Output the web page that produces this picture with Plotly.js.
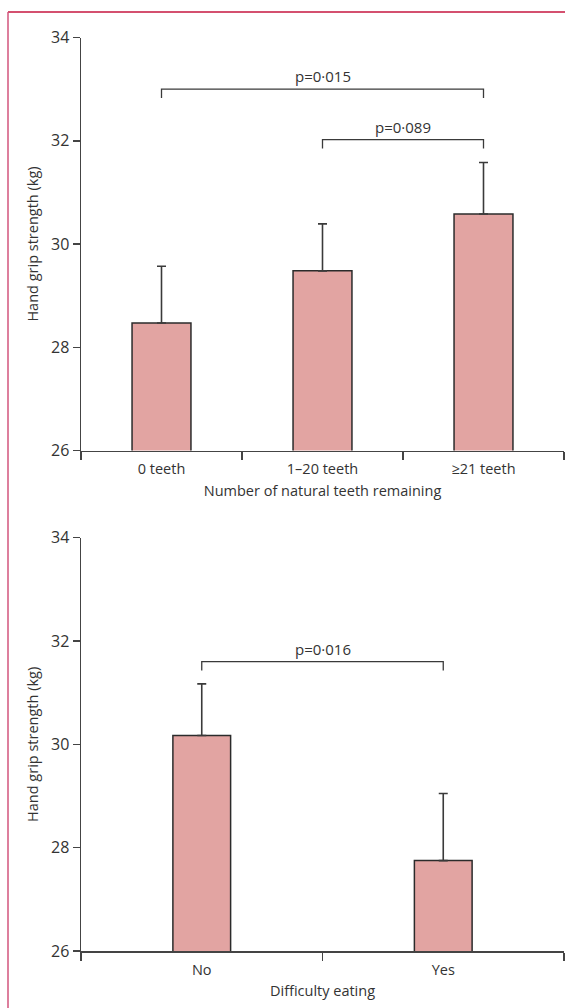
<!DOCTYPE html>
<html>
<head>
<meta charset="utf-8">
<script src="https://cdn.plot.ly/plotly-3.0.1.min.js"></script>
<style>html,body{margin:0;padding:0;background:#fff;}#chart{width:565px;height:1008px;}</style>
</head>
<body>
<div id="chart"></div>
<script>
// ---- data ----
const teethCats = ['0 teeth', '1–20 teeth', '≥21 teeth'];
const teethMean = [28.47, 29.48, 30.58];
const teethUpper = [29.57, 30.39, 31.58];
const teethPFrom = [0, 1];
const teethPTo = [2, 2];
const teethPLevel = [33.0, 32.02];
const teethPLabel = ['p=0·015', 'p=0·089'];

const eatCats = ['No', 'Yes'];
const eatMean = [30.17, 27.75];
const eatUpper = [31.17, 29.05];
const eatPFrom = [0];
const eatPTo = [1];
const eatPLevel = [31.6];
const eatPLabel = ['p=0·016'];

const yTicks = [26, 28, 30, 32, 34];
const yTitle = 'Hand grip strength (kg)';
const teethXTitle = 'Number of natural teeth remaining';
const eatXTitle = 'Difficulty eating';

// ---- styles ----
const W = 565, H = 1008;
const FONT = 'Open Sans, sans-serif';
const TXT = '#333';
const AX = '#444';
const BAR_FILL = '#e2a4a2';
const BAR_LINE = '#2b2b2b';
const DROP = 0.17;

function px2x(p) { return p / W; }
function px2y(p) { return 1 - p / H; }

function barTrace(cats, mean, upper, xa, ya, w) {
  return {
    type: 'bar', x: cats, y: mean, xaxis: xa, yaxis: ya, width: w,
    marker: {color: BAR_FILL, line: {color: BAR_LINE, width: 1.5}},
    error_y: {type: 'data', symmetric: false,
      array: upper.map((u, i) => +(u - mean[i]).toFixed(3)),
      arrayminus: mean.map(() => 0),
      color: '#3a3a3a', thickness: 1.6, width: 4.5},
    hoverinfo: 'skip', showlegend: false
  };
}

function bracketTraces(cats, from, to, level, xa, ya) {
  return from.map((f, i) => ({
    type: 'scatter', mode: 'lines', xaxis: xa, yaxis: ya,
    x: [cats[f], cats[f], cats[to[i]], cats[to[i]]],
    y: [level[i] - DROP, level[i], level[i], level[i] - DROP],
    line: {color: '#3a3a3a', width: 1.3}, hoverinfo: 'skip', showlegend: false,
    cliponaxis: false
  }));
}

function bracketLabels(from, to, level, label, xa, ya) {
  return from.map((f, i) => ({
    xref: xa, yref: ya, x: (f + to[i]) / 2, y: level[i],
    text: label[i], showarrow: false, yanchor: 'bottom', yshift: 1,
    font: {family: FONT, size: 15, color: TXT}
  }));
}

const traces = [
  barTrace(teethCats, teethMean, teethUpper, 'x', 'y', 0.366),
  ...bracketTraces(teethCats, teethPFrom, teethPTo, teethPLevel, 'x', 'y'),
  barTrace(eatCats, eatMean, eatUpper, 'x2', 'y2', 0.239),
  ...bracketTraces(eatCats, eatPFrom, eatPTo, eatPLevel, 'x2', 'y2')
];

const yaxisBase = {
  range: [26, 34], tickvals: yTicks, showgrid: false, zeroline: false,
  showline: true, linecolor: AX, linewidth: 1.5,
  ticks: 'outside', ticklen: 7, tickwidth: 1.5, tickcolor: AX,
  tickfont: {family: FONT, size: 16, color: TXT},
  automargin: false, fixedrange: true
};
const xaxisBase = {
  showgrid: false, zeroline: false, showline: true, linecolor: AX, linewidth: 1.5,
  ticks: 'outside', ticklen: 8, tickwidth: 1.5, tickcolor: AX, tickson: 'boundaries',
  ticklabelstandoff: 5,
  tickfont: {family: FONT, size: 14.5, color: TXT}, automargin: false, fixedrange: true
};

const layout = {
  width: W, height: H,
  margin: {l: 0, r: 0, t: 0, b: 0},
  paper_bgcolor: '#fff', plot_bgcolor: '#fff',
  font: {family: FONT, color: TXT},
  showlegend: false,
  xaxis: Object.assign({}, xaxisBase, {
    domain: [px2x(81), px2x(564)], anchor: 'y', range: [-0.5, 2.5],
    title: {text: teethXTitle, font: {family: FONT, size: 14.5, color: TXT}, standoff: 8}
  }),
  yaxis: Object.assign({}, yaxisBase, {
    domain: [px2y(450.5), px2y(37.5)], anchor: 'x',
    title: {text: yTitle, font: {family: FONT, size: 14.5, color: TXT}, standoff: 9}
  }),
  xaxis2: Object.assign({}, xaxisBase, {
    domain: [px2x(81), px2x(564)], anchor: 'y2', range: [-0.5, 1.5],
    title: {text: eatXTitle, font: {family: FONT, size: 14.5, color: TXT}, standoff: 8}
  }),
  yaxis2: Object.assign({}, yaxisBase, {
    domain: [px2y(951), px2y(537.7)], anchor: 'x2',
    title: {text: yTitle, font: {family: FONT, size: 14.5, color: TXT}, standoff: 9}
  }),
  annotations: [
    ...bracketLabels(teethPFrom, teethPTo, teethPLevel, teethPLabel, 'x', 'y'),
    ...bracketLabels(eatPFrom, eatPTo, eatPLevel, eatPLabel, 'x2', 'y2')
  ],
  shapes: [
    {type: 'line', xref: 'paper', yref: 'paper', x0: px2x(8), x1: 1, y0: px2y(12), y1: px2y(12),
     line: {color: '#c6163f', width: 1.5}},
    {type: 'line', xref: 'paper', yref: 'paper', x0: px2x(8), x1: px2x(8), y0: px2y(12), y1: 0,
     line: {color: '#d2557c', width: 1.5}}
  ]
};

Plotly.newPlot('chart', traces, layout, {staticPlot: true, displayModeBar: false});
</script>
</body>
</html>
